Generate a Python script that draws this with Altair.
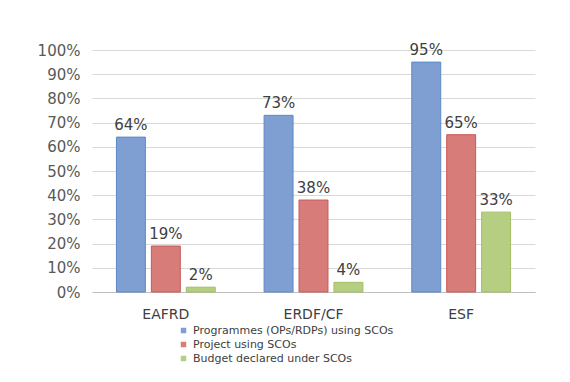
import altair as alt
import pandas as pd

categories = ["EAFRD", "ERDF/CF", "ESF"]
series = ["Programmes (OPs/RDPs) using SCOs", "Project using SCOs", "Budget declared under SCOs"]
programmes = [0.64, 0.73, 0.95]
projects = [0.19, 0.38, 0.65]
budget = [0.02, 0.04, 0.33]
fill_colors = ["#7f9fd2", "#d87c7a", "#b6ce82"]
stroke_colors = ["#5b89c6", "#c85a57", "#a2c064"]

rows = []
for i, c in enumerate(categories):
    for s, vals in zip(series, [programmes, projects, budget]):
        rows.append({"category": c, "series": s, "value": vals[i]})
df = pd.DataFrame(rows)

font = "DejaVu Sans"

x = alt.X("category:N", sort=categories, title=None,
          scale=alt.Scale(paddingInner=0, paddingOuter=0),
          axis=alt.Axis(labelAngle=0, labelFontSize=14, labelColor="#404040", labelFont=font,
                        ticks=False, domainColor="#bfbfbf", labelPadding=15, grid=False))
xo = alt.XOffset("series:N", sort=series,
                 scale=alt.Scale(paddingInner=0.171, paddingOuter=0.7))
y = alt.Y("value:Q", title=None,
          scale=alt.Scale(domain=[0, 1]),
          axis=alt.Axis(format=".0%", values=[i / 10 for i in range(11)], labelFontSize=15,
                        labelColor="#595959", labelFont=font, ticks=False, domain=False,
                        gridColor="#d9d9d9", labelPadding=12))

color = alt.Color("series:N", sort=series,
                  scale=alt.Scale(domain=series, range=fill_colors),
                  legend=alt.Legend(title=None, orient="none", legendX=86, legendY=275,
                                    symbolType="square", symbolSize=30, labelFontSize=11,
                                    labelColor="#404040", labelFont=font, rowPadding=2,
                                    symbolStrokeWidth=0, labelOffset=4, labelLimit=400))
stroke = alt.Stroke("series:N", sort=series,
                    scale=alt.Scale(domain=series, range=stroke_colors), legend=None)

bars = alt.Chart(df).mark_bar(strokeWidth=1).encode(x=x, xOffset=xo, y=y, color=color, stroke=stroke)
labels = alt.Chart(df).mark_text(baseline="bottom", dy=-4, fontSize=15, font=font, color="#404040").encode(
    x=x, xOffset=xo, y=y, text=alt.Text("value:Q", format=".0%"))

chart = (bars + labels).properties(
    width=443, height=242,
    padding={"left": 84, "top": 42, "right": 19, "bottom": 74},
    autosize=alt.AutoSizeParams(type="none"),
).configure(background="white").configure_view(stroke=None, strokeWidth=0)

chart.save("out.html", embed_options={"renderer": "svg", "actions": False})
